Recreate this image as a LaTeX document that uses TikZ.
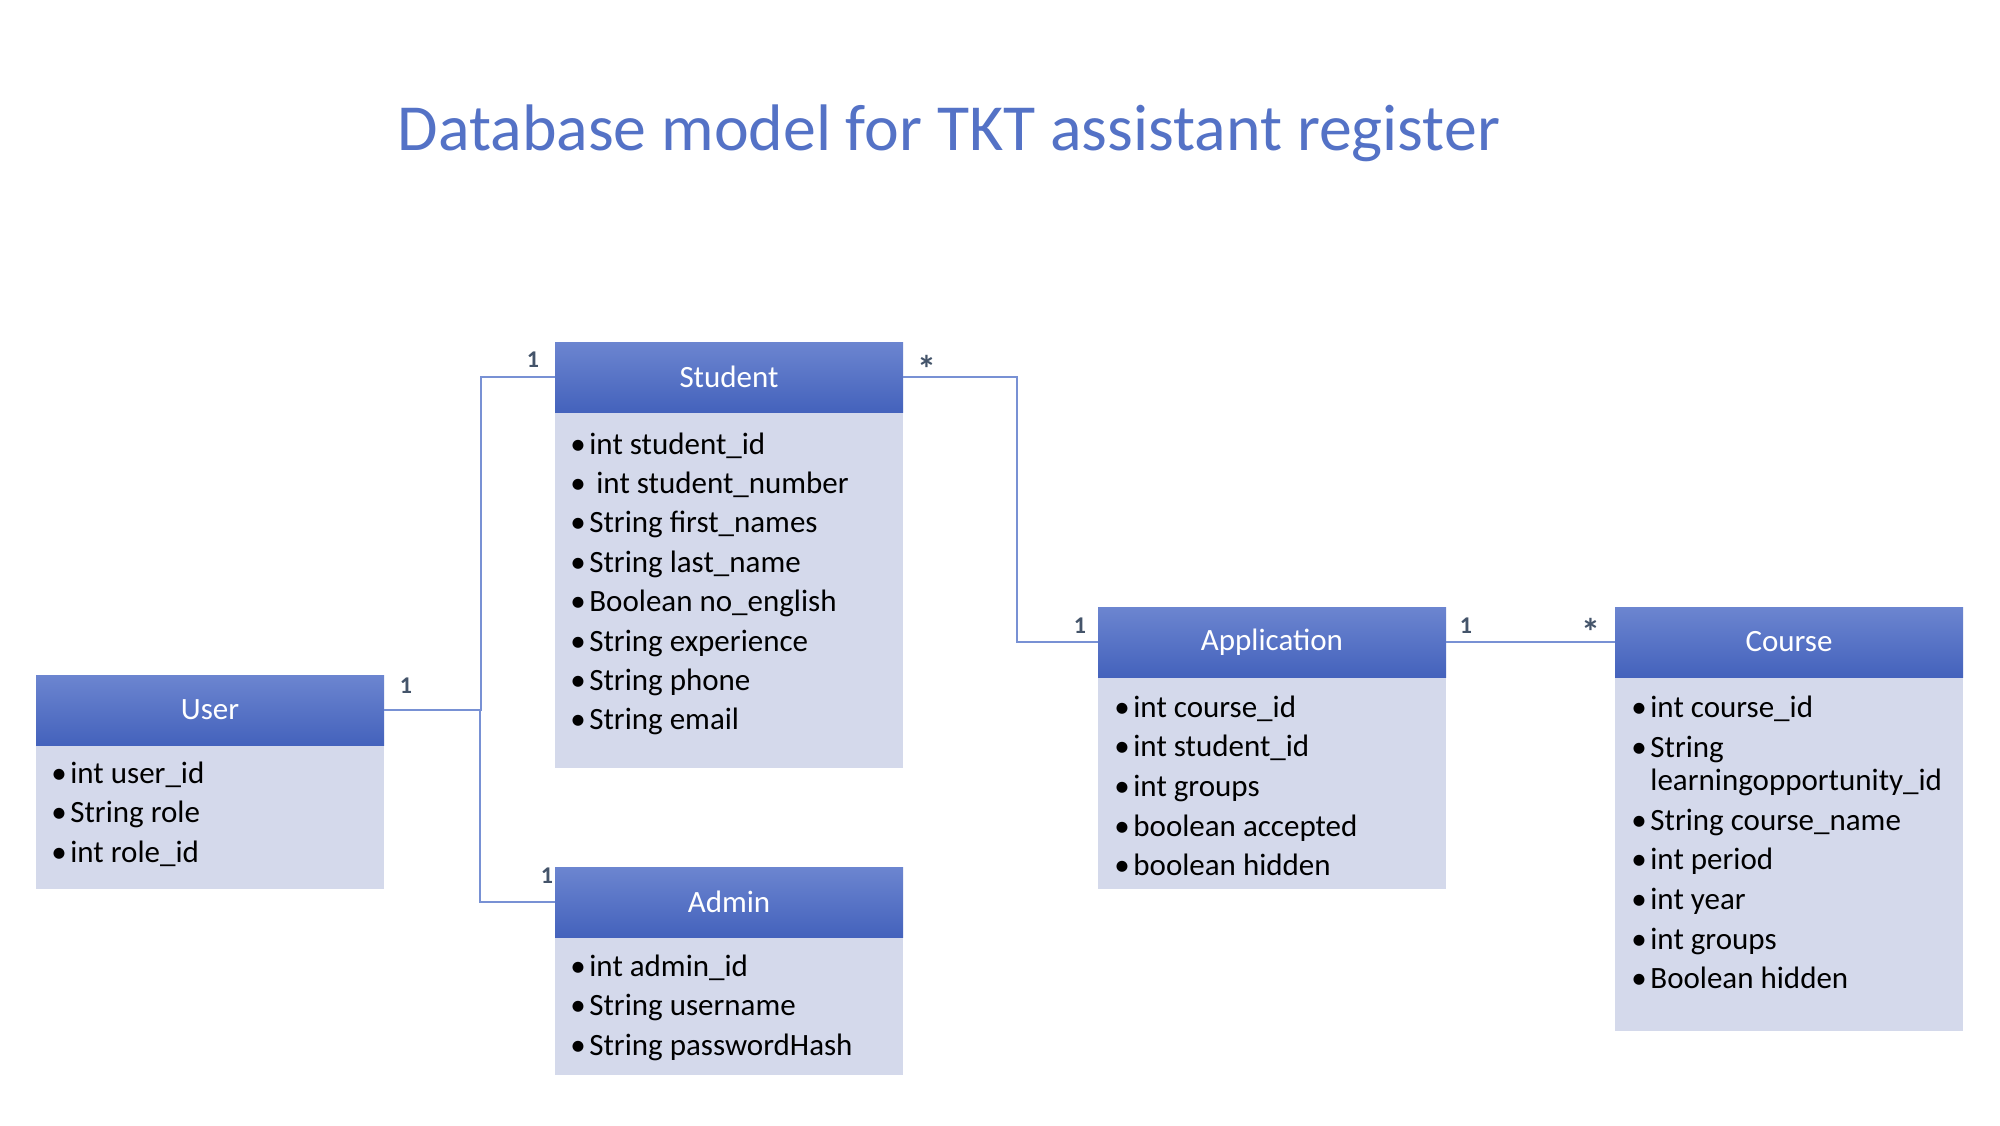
\documentclass[tikz,border=0pt]{standalone}
\usepackage{fontspec}
\setmainfont{Carlito}
\definecolor{hdrtop}{RGB}{108,133,208}
\definecolor{hdrbot}{RGB}{68,98,188}
\definecolor{bodyfill}{RGB}{212,217,235}
\definecolor{connc}{RGB}{120,145,212}
\definecolor{multc}{RGB}{68,84,106}
\definecolor{titlec}{RGB}{84,114,198}
\newcommand{\bul}{\makebox[9.5pt][l]{\textbullet}}
\tikzset{
  hdr/.style={anchor=north west, minimum width=174pt, minimum height=35pt, inner sep=0pt, outer sep=0pt,
    top color=hdrtop, bottom color=hdrbot, text=white, font=\fontsize{15.5}{18}\selectfont},
  bodybox/.style={anchor=north west, minimum width=174pt, inner sep=0pt, outer sep=0pt, fill=bodyfill},
  attr/.style={anchor=base west, inner sep=0pt, text=black, font=\fontsize{15.5}{18}\selectfont},
  conn/.style={draw=connc, line width=1pt},
  mult/.style={anchor=base, inner sep=0pt, text=multc, font=\fontsize{12}{14}\selectfont\bfseries},
  star/.style={anchor=base, inner sep=0pt, text=multc, font=\fontsize{19}{22}\selectfont\bfseries},
}
\begin{document}
\begin{tikzpicture}[x=0.5pt, y=-0.5pt]
\useasboundingbox[fill=white] (0,0) rectangle (2000,1125);

% title
\node[anchor=base, inner sep=0pt, text=titlec, font=\fontsize{32.9}{36}\selectfont] (title) at (949,150)
  {Database model for TKT assistant register};

% bodies
\node[bodybox, minimum height=72pt] (userbody) at (36,745) {};
\node[bodybox, minimum height=178pt] (studentbody) at (555,412) {};
\node[bodybox, minimum height=69pt] (adminbody) at (555,937) {};
\node[bodybox, minimum height=106pt] (appbody) at (1098,677) {};
\node[bodybox, minimum height=177pt] (coursebody) at (1615,677) {};

% headers
\node[hdr] (user) at (36,675) {User};
\node[hdr] (student) at (555,342) {Student};
\node[hdr] (admin) at (555,867) {Admin};
\node[hdr] (application) at (1098,607) {Application};
\node[hdr] (course) at (1615,607) {Course};

% attributes
\foreach \t [count=\i from 0] in {int user\_id, String role, int role\_id}
  \node[attr] (ua\i) at (51, 783+\i*39.5) {\bul\t};
\foreach \t [count=\i from 0] in {int student\_id, \ int student\_number, String first\_names, String last\_name, Boolean no\_english, String experience, String phone, String email}
  \node[attr] (sa\i) at (570, 454+\i*39.4) {\bul\t};
\foreach \t [count=\i from 0] in {int admin\_id, String username, String passwordHash}
  \node[attr] (aa\i) at (570, 976+\i*39.5) {\bul\t};
\foreach \t [count=\i from 0] in {int course\_id, int student\_id, int groups, boolean accepted, boolean hidden}
  \node[attr] (pa\i) at (1114, 717+\i*39.7) {\bul\t};
\node[attr] (ca0) at (1631,717) {\bul int course\_id};
\node[attr] (ca1) at (1631,757) {\bul String};
\node[attr] (ca2) at (1650,790) {learningopportunity\_id};
\node[attr] (ca3) at (1631,830) {\bul String course\_name};
\node[attr] (ca4) at (1631,869) {\bul int period};
\node[attr] (ca5) at (1631,909) {\bul int year};
\node[attr] (ca6) at (1631,949) {\bul int groups};
\node[attr] (ca7) at (1631,988) {\bul Boolean hidden};

% connectors
\draw[conn] (user.east) -- ++(97,0) |- (student.west);
\draw[conn] (user.east) -- ++(96,0) |- (admin.west);
\draw[conn] (student.east) -- ++(114,0) |- (application.west);
\draw[conn] (application.east) -- (course.west);

% multiplicities
\node[mult] (m1) at (533,367) {1};
\node[star] (m2) at (927,382) {*};
\node[mult] (m3) at (406,693) {1};
\node[mult] (m4) at (547,883) {1};
\node[mult] (m5) at (1080,633) {1};
\node[mult] (m6) at (1466,633) {1};
\node[star] (m7) at (1591,645) {*};
\end{tikzpicture}
\end{document}
